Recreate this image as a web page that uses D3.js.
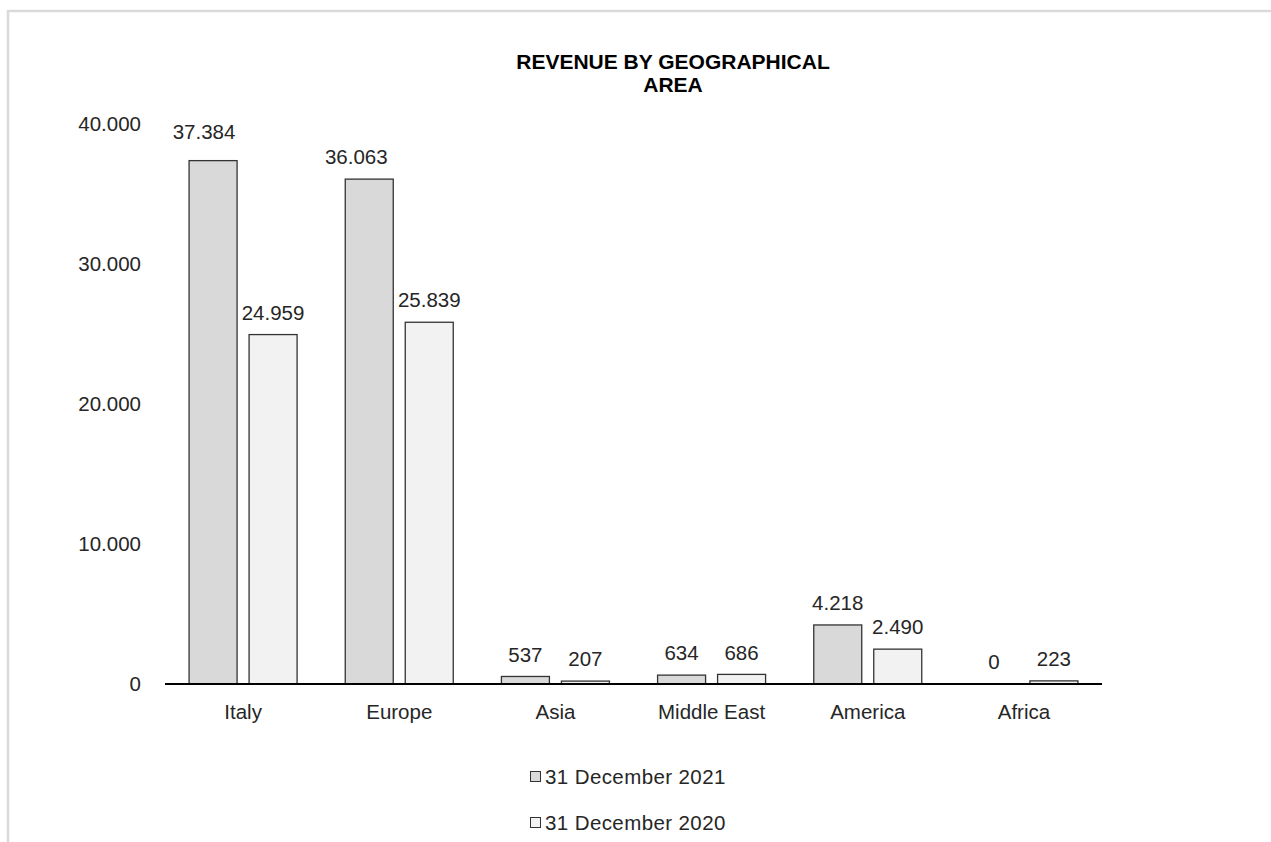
<!DOCTYPE html>
<html>
<head>
<meta charset="utf-8">
<script src="https://cdn.jsdelivr.net/npm/d3@7"></script>
<style>
  html, body { margin: 0; padding: 0; background: #ffffff; }
  svg { display: block; font-family: "Liberation Sans", Arial, sans-serif; }
</style>
</head>
<body>
<svg id="chart" width="1271" height="842"></svg>
<script>
// Revenue by geographical area, two reporting dates
const categories = ["Italy", "Europe", "Asia", "Middle East", "America", "Africa"];
const seriesNames = ["31 December 2021", "31 December 2020"];
const values2021 = [37384, 36063, 537, 634, 4218, 0];
const values2020 = [24959, 25839, 207, 686, 2490, 223];
const yTicks = [0, 10000, 20000, 30000, 40000];
const titleLines = ["REVENUE BY GEOGRAPHICAL", "AREA"];

const seriesValues = [values2021, values2020];
const fills = ["#d9d9d9", "#f2f2f2"];
const textColor = "#262626";
const fontSize = 20.5;

const svg = d3.select("#chart");
const W = 1271, H = 842;

// outer frame
svg.append("rect")
  .attr("x", 8).attr("y", 11)
  .attr("width", W + 10).attr("height", H + 10)
  .attr("fill", "#ffffff")
  .attr("stroke", "#dadada").attr("stroke-width", 2.5);

const plot = { left: 165, right: 1102, top: 124, bottom: 684 };

const x = d3.scaleBand()
  .domain(categories)
  .range([plot.left, plot.right]);

const y = d3.scaleLinear()
  .domain([0, 40000])
  .range([plot.bottom, plot.top]);

const fmt = v => d3.format(",")(v).replace(/,/g, ".");

const barW = 48, barGap = 12;
const offsetFor = s => s === 0 ? -barGap / 2 - barW : barGap / 2;

// title
svg.append("text")
  .attr("x", 673).attr("y", 62).attr("dy", "0.35em")
  .attr("text-anchor", "middle")
  .attr("font-size", 21).attr("font-weight", "bold").attr("fill", "#000")
  .selectAll("tspan").data(titleLines).join("tspan")
  .attr("x", 673).attr("dy", (d, i) => i === 0 ? "0.35em" : 23)
  .text(d => d);

// y axis labels (no axis line, no grid)
const yAxis = d3.axisLeft(y).tickValues(yTicks).tickFormat(fmt).tickSize(0).tickPadding(0);
const yG = svg.append("g").attr("transform", "translate(141,0)").call(yAxis);
yG.select(".domain").remove();
yG.selectAll("text").attr("font-size", fontSize).attr("fill", textColor)
  .attr("font-family", "Liberation Sans, Arial, sans-serif");

// bars
categories.forEach((cat, i) => {
  seriesValues.forEach((vals, s) => {
    const v = vals[i];
    if (v > 0) {
      svg.append("rect")
        .attr("x", x(cat) + x.bandwidth() / 2 + offsetFor(s))
        .attr("y", y(v))
        .attr("width", barW)
        .attr("height", y(0) - y(v))
        .attr("fill", fills[s])
        .attr("stroke", "#333333").attr("stroke-width", 1.3);
    }
  });
});

// value labels above bars; the two tallest labels are shifted left and the top one lifted
categories.forEach((cat, i) => {
  seriesValues.forEach((vals, s) => {
    const v = vals[i];
    let cx = x(cat) + x.bandwidth() / 2 + offsetFor(s) + barW / 2;
    let cy = y(v) - 22;
    if (s === 0 && i === 0) { cx -= 9; cy -= 7; }
    if (s === 0 && i === 1) { cx -= 13; }
    svg.append("text")
      .attr("x", cx).attr("y", cy)
      .attr("dy", "0.35em")
      .attr("text-anchor", "middle")
      .attr("font-size", fontSize).attr("fill", textColor)
      .text(fmt(v));
  });
});

// x axis line and category labels
const xAxis = d3.axisBottom(x).tickSize(0).tickPadding(0);
const xG = svg.append("g").attr("transform", `translate(0,${plot.bottom})`).call(xAxis);
xG.select(".domain").attr("stroke", "#000").attr("stroke-width", 2)
  .attr("d", `M${plot.left},0H${plot.right}`);
xG.selectAll("text")
  .attr("y", 28).attr("dy", "0.35em")
  .attr("font-size", fontSize).attr("fill", textColor)
  .attr("font-family", "Liberation Sans, Arial, sans-serif");

// legend
const legend = svg.append("g");
seriesNames.forEach((name, s) => {
  const ly = 777 + s * 46;
  legend.append("rect")
    .attr("x", 530.5).attr("y", ly - 5.5)
    .attr("width", 10).attr("height", 10)
    .attr("fill", fills[s]).attr("stroke", "#333333").attr("stroke-width", 1);
  legend.append("text")
    .attr("x", 545).attr("y", ly).attr("dy", "0.35em")
    .attr("font-size", fontSize).attr("fill", textColor)
    .attr("letter-spacing", 0.4)
    .text(name);
});
</script>
</body>
</html>
